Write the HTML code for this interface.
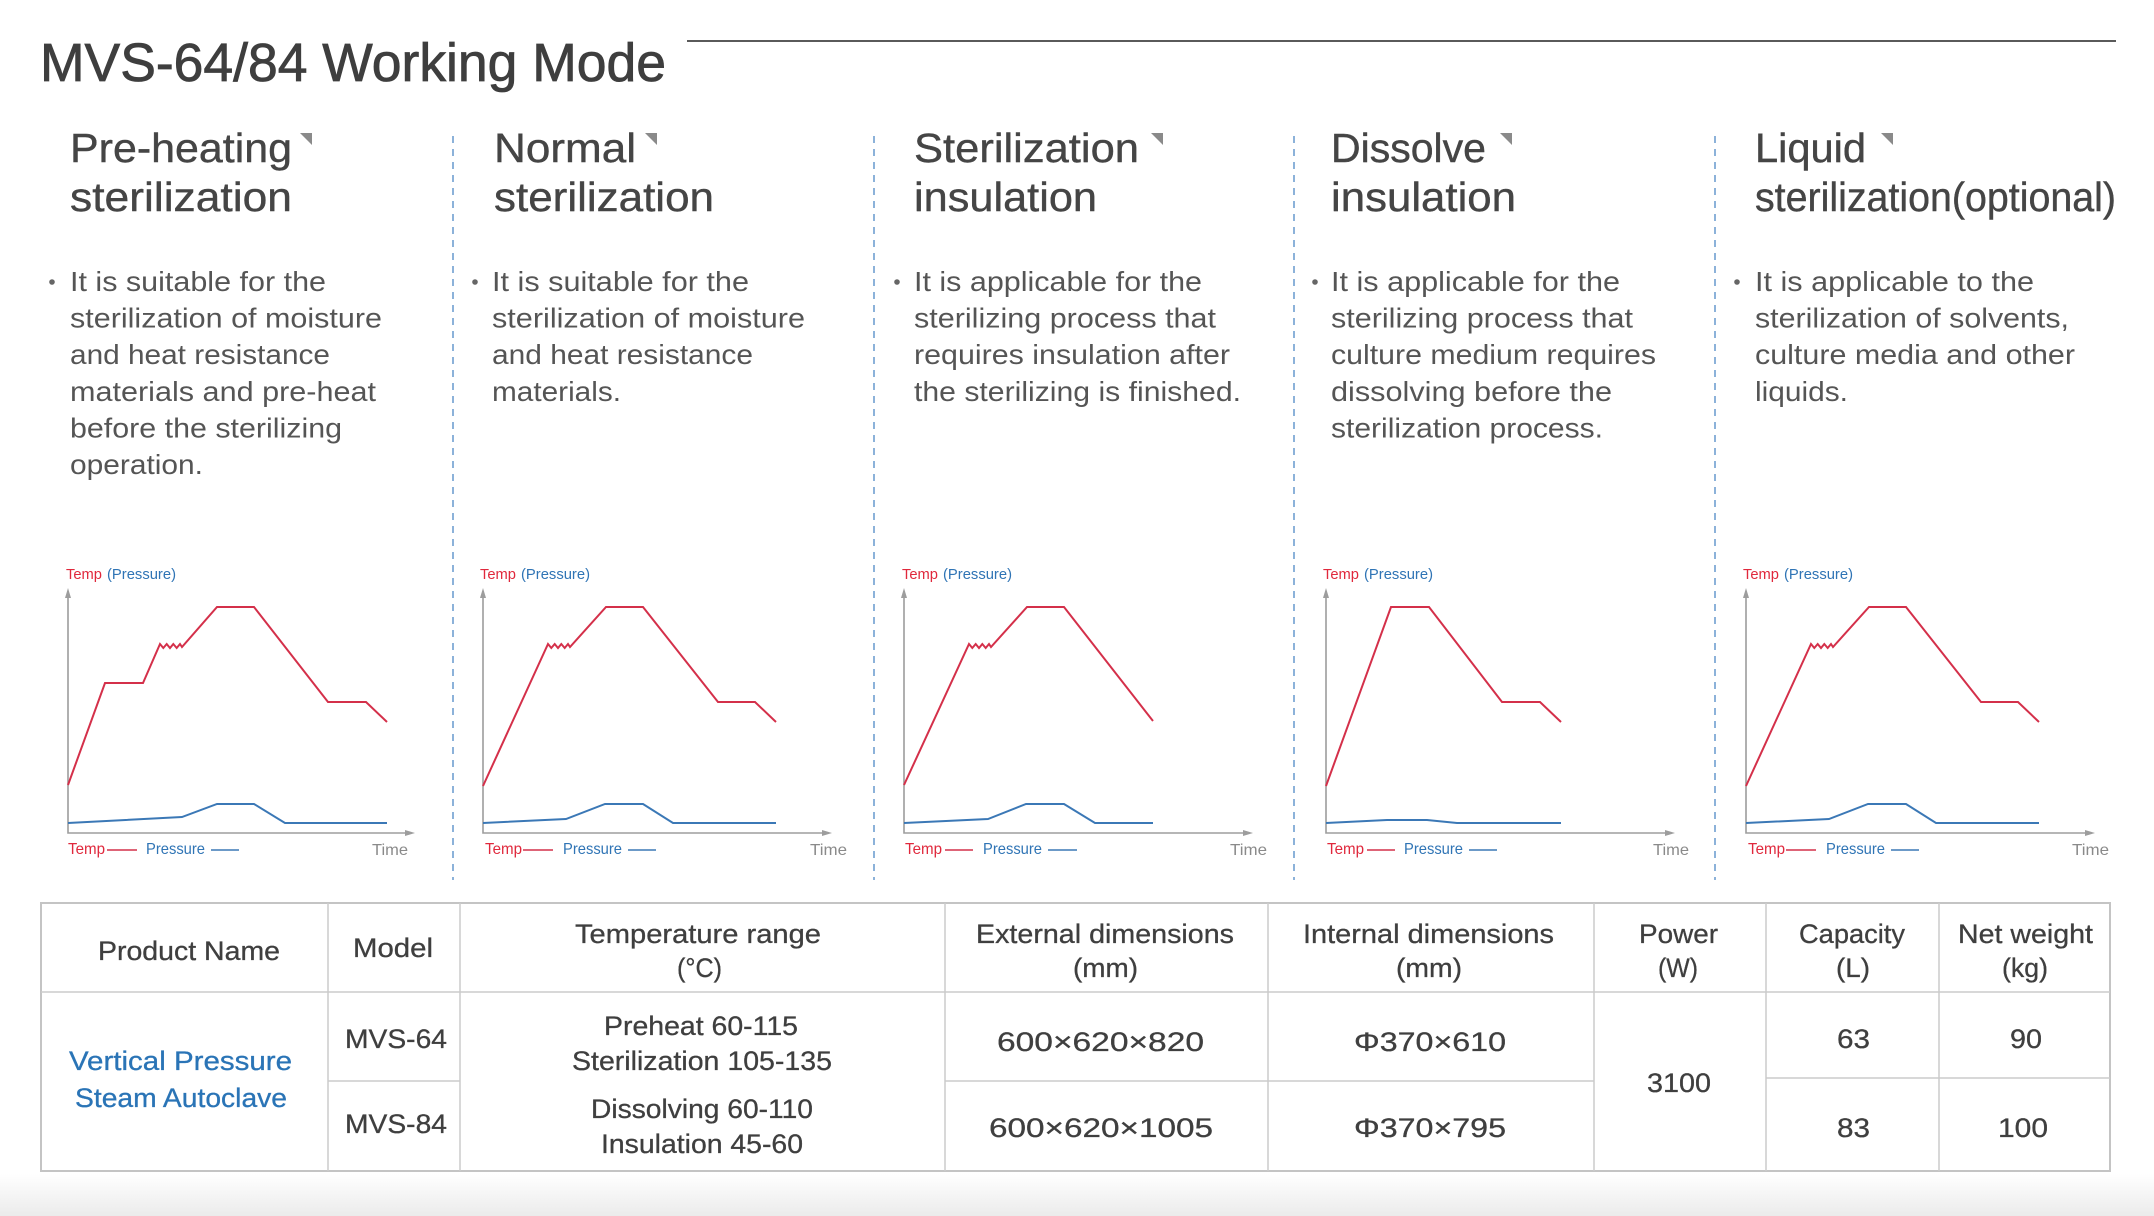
<!DOCTYPE html>
<html>
<head>
<meta charset="utf-8">
<style>
html,body{margin:0;padding:0;background:#fff;}
svg{display:block;}
text{font-family:"Liberation Sans","DejaVu Sans",sans-serif;}
</style>
</head>
<body>
<svg width="2154" height="1216" viewBox="0 0 2154 1216" xmlns="http://www.w3.org/2000/svg">
<defs>
<linearGradient id="bg" x1="0" y1="0" x2="0" y2="1">
<stop offset="0" stop-color="#ffffff"/>
<stop offset="1" stop-color="#ebebeb"/>
</linearGradient>
</defs>
<rect x="0" y="0" width="2154" height="1216" fill="#fff"/>
<rect x="0" y="1174" width="2154" height="42" fill="url(#bg)"/>

<!-- Title -->
<text x="40" y="81" font-size="54" fill="#3e3e3e" stroke="#3e3e3e" stroke-width="0.8" textLength="626" lengthAdjust="spacingAndGlyphs">MVS-64/84 Working Mode</text>
<line x1="687" y1="41" x2="2116" y2="41" stroke="#5a5a5a" stroke-width="2"/>

<!-- Separators -->
<g stroke="#6f9fd0" stroke-width="1.6" stroke-dasharray="7 6">
<line x1="453" y1="136" x2="453" y2="880"/>
<line x1="874" y1="136" x2="874" y2="880"/>
<line x1="1294" y1="136" x2="1294" y2="880"/>
<line x1="1715" y1="136" x2="1715" y2="880"/>
</g>

<!-- Headings -->
<g font-size="41" fill="#454545" stroke="#454545" stroke-width="0.4">
<text x="70" y="162" textLength="222" lengthAdjust="spacingAndGlyphs">Pre-heating</text>
<text x="70" y="211" textLength="222" lengthAdjust="spacingAndGlyphs">sterilization</text>
<text x="494" y="162" textLength="142" lengthAdjust="spacingAndGlyphs">Normal</text>
<text x="494" y="211" textLength="220" lengthAdjust="spacingAndGlyphs">sterilization</text>
<text x="914" y="162" textLength="225" lengthAdjust="spacingAndGlyphs">Sterilization</text>
<text x="914" y="211" textLength="183" lengthAdjust="spacingAndGlyphs">insulation</text>
<text x="1331" y="162" textLength="155" lengthAdjust="spacingAndGlyphs">Dissolve</text>
<text x="1331" y="211" textLength="185" lengthAdjust="spacingAndGlyphs">insulation</text>
<text x="1755" y="162" textLength="111" lengthAdjust="spacingAndGlyphs">Liquid</text>
<text x="1755" y="211" textLength="361" lengthAdjust="spacingAndGlyphs">sterilization(optional)</text>
</g>
<g fill="#8a8a8a">
<polygon points="300,133 312,133 312,145"/>
<polygon points="645,133 657,133 657,145"/>
<polygon points="1151,133 1163,133 1163,145"/>
<polygon points="1500,133 1512,133 1512,145"/>
<polygon points="1881,133 1893,133 1893,145"/>
</g>

<!-- Body text -->
<g fill="#666">
<circle cx="52" cy="282" r="2.8"/>
<circle cx="475" cy="282" r="2.8"/>
<circle cx="897" cy="282" r="2.8"/>
<circle cx="1315" cy="282" r="2.8"/>
<circle cx="1737" cy="282" r="2.8"/>
</g>
<g font-size="28" fill="#555">
<text x="70" y="291" textLength="256" lengthAdjust="spacingAndGlyphs">It is suitable for the</text>
<text x="70" y="327.6" textLength="312" lengthAdjust="spacingAndGlyphs">sterilization of moisture</text>
<text x="70" y="364.2" textLength="260" lengthAdjust="spacingAndGlyphs">and heat resistance</text>
<text x="70" y="400.8" textLength="306" lengthAdjust="spacingAndGlyphs">materials and pre-heat</text>
<text x="70" y="437.4" textLength="272" lengthAdjust="spacingAndGlyphs">before the sterilizing</text>
<text x="70" y="474" textLength="133" lengthAdjust="spacingAndGlyphs">operation.</text>

<text x="492" y="291" textLength="257" lengthAdjust="spacingAndGlyphs">It is suitable for the</text>
<text x="492" y="327.6" textLength="313" lengthAdjust="spacingAndGlyphs">sterilization of moisture</text>
<text x="492" y="364.2" textLength="261" lengthAdjust="spacingAndGlyphs">and heat resistance</text>
<text x="492" y="400.8" textLength="129" lengthAdjust="spacingAndGlyphs">materials.</text>

<text x="914" y="291" textLength="288" lengthAdjust="spacingAndGlyphs">It is applicable for the</text>
<text x="914" y="327.6" textLength="302" lengthAdjust="spacingAndGlyphs">sterilizing process that</text>
<text x="914" y="364.2" textLength="316" lengthAdjust="spacingAndGlyphs">requires insulation after</text>
<text x="914" y="400.8" textLength="327" lengthAdjust="spacingAndGlyphs">the sterilizing is finished.</text>

<text x="1331" y="291" textLength="289" lengthAdjust="spacingAndGlyphs">It is applicable for the</text>
<text x="1331" y="327.6" textLength="302" lengthAdjust="spacingAndGlyphs">sterilizing process that</text>
<text x="1331" y="364.2" textLength="325" lengthAdjust="spacingAndGlyphs">culture medium requires</text>
<text x="1331" y="400.8" textLength="281" lengthAdjust="spacingAndGlyphs">dissolving before the</text>
<text x="1331" y="437.4" textLength="272" lengthAdjust="spacingAndGlyphs">sterilization process.</text>

<text x="1755" y="291" textLength="279" lengthAdjust="spacingAndGlyphs">It is applicable to the</text>
<text x="1755" y="327.6" textLength="314" lengthAdjust="spacingAndGlyphs">sterilization of solvents,</text>
<text x="1755" y="364.2" textLength="320" lengthAdjust="spacingAndGlyphs">culture media and other</text>
<text x="1755" y="400.8" textLength="93" lengthAdjust="spacingAndGlyphs">liquids.</text>
</g>

<!-- Charts: common axes -->
<g stroke="#9d9d9d" stroke-width="1.6" fill="none">
<path d="M68 594 V833 H410"/>
<path d="M483 594 V833 H827"/>
<path d="M904 594 V833 H1248"/>
<path d="M1326 594 V833 H1670"/>
<path d="M1746 594 V833 H2090"/>
</g>
<g fill="#9d9d9d">
<polygon points="68,588 65,598 71,598"/>
<polygon points="415,833 405,830 405,836"/>
<polygon points="483,588 480,598 486,598"/>
<polygon points="832,833 822,830 822,836"/>
<polygon points="904,588 901,598 907,598"/>
<polygon points="1253,833 1243,830 1243,836"/>
<polygon points="1326,588 1323,598 1329,598"/>
<polygon points="1675,833 1665,830 1665,836"/>
<polygon points="1746,588 1743,598 1749,598"/>
<polygon points="2095,833 2085,830 2085,836"/>
</g>

<!-- Red temp lines -->
<g stroke="#d4304a" stroke-width="2" fill="none" stroke-linejoin="miter">
<polyline points="68,785 105,683 143,683 160,644 163.3,648 166.7,644 170,648 173.3,644 176.7,648 180,644 182,647 217,607 254,607 328,702 366,702 387,722"/>
<polyline points="483,786 548,644 551.3,648 554.7,644 558,648 561.3,644 564.7,648 568,644 570,647 606,607 643,607 718,702 755,702 776,722"/>
<polyline points="904,785 969,644 972.3,648 975.7,644 979,648 982.3,644 985.7,648 989,644 991,647 1027,607 1064,607 1153,721"/>
<polyline points="1326,786 1391,607 1429,607 1502,702 1540,702 1561,722"/>
<polyline points="1746,786 1811,644 1814.3,648 1817.7,644 1821,648 1824.3,644 1827.7,648 1831,644 1833,647 1869,607 1906,607 1981,702 2018,702 2039,722"/>
</g>

<!-- Blue pressure lines -->
<g stroke="#3b78b6" stroke-width="2" fill="none">
<polyline points="68,823 182,817 217,804 254,804 285,823 387,823"/>
<polyline points="483,823 566,819 605,804 643,804 673,823 776,823"/>
<polyline points="904,823 988,819 1026,804 1064,804 1095,823 1153,823"/>
<polyline points="1326,823 1387,820 1427,820 1457,823 1561,823"/>
<polyline points="1746,823 1829,819 1868,804 1906,804 1936,823 2039,823"/>
</g>

<!-- Chart top labels -->
<g font-size="15">
<text x="66" y="579" fill="#e0283c" textLength="36" lengthAdjust="spacingAndGlyphs">Temp</text>
<text x="107" y="579" fill="#2f74b5" textLength="69" lengthAdjust="spacingAndGlyphs">(Pressure)</text>
<text x="480" y="579" fill="#e0283c" textLength="36" lengthAdjust="spacingAndGlyphs">Temp</text>
<text x="521" y="579" fill="#2f74b5" textLength="69" lengthAdjust="spacingAndGlyphs">(Pressure)</text>
<text x="902" y="579" fill="#e0283c" textLength="36" lengthAdjust="spacingAndGlyphs">Temp</text>
<text x="943" y="579" fill="#2f74b5" textLength="69" lengthAdjust="spacingAndGlyphs">(Pressure)</text>
<text x="1323" y="579" fill="#e0283c" textLength="36" lengthAdjust="spacingAndGlyphs">Temp</text>
<text x="1364" y="579" fill="#2f74b5" textLength="69" lengthAdjust="spacingAndGlyphs">(Pressure)</text>
<text x="1743" y="579" fill="#e0283c" textLength="36" lengthAdjust="spacingAndGlyphs">Temp</text>
<text x="1784" y="579" fill="#2f74b5" textLength="69" lengthAdjust="spacingAndGlyphs">(Pressure)</text>
</g>

<!-- Chart legends -->
<g font-size="16">
<text x="68" y="854" fill="#e0283c" textLength="37" lengthAdjust="spacingAndGlyphs">Temp</text>
<text x="146" y="854" fill="#2f74b5" textLength="59" lengthAdjust="spacingAndGlyphs">Pressure</text>
<text x="372" y="855" fill="#8a8a8a" textLength="36" lengthAdjust="spacingAndGlyphs">Time</text>

<text x="485" y="854" fill="#e0283c" textLength="37" lengthAdjust="spacingAndGlyphs">Temp</text>
<text x="563" y="854" fill="#2f74b5" textLength="59" lengthAdjust="spacingAndGlyphs">Pressure</text>
<text x="810" y="855" fill="#8a8a8a" textLength="37" lengthAdjust="spacingAndGlyphs">Time</text>

<text x="905" y="854" fill="#e0283c" textLength="37" lengthAdjust="spacingAndGlyphs">Temp</text>
<text x="983" y="854" fill="#2f74b5" textLength="59" lengthAdjust="spacingAndGlyphs">Pressure</text>
<text x="1230" y="855" fill="#8a8a8a" textLength="37" lengthAdjust="spacingAndGlyphs">Time</text>

<text x="1327" y="854" fill="#e0283c" textLength="37" lengthAdjust="spacingAndGlyphs">Temp</text>
<text x="1404" y="854" fill="#2f74b5" textLength="59" lengthAdjust="spacingAndGlyphs">Pressure</text>
<text x="1653" y="855" fill="#8a8a8a" textLength="36" lengthAdjust="spacingAndGlyphs">Time</text>

<text x="1748" y="854" fill="#e0283c" textLength="37" lengthAdjust="spacingAndGlyphs">Temp</text>
<text x="1826" y="854" fill="#2f74b5" textLength="59" lengthAdjust="spacingAndGlyphs">Pressure</text>
<text x="2072" y="855" fill="#8a8a8a" textLength="37" lengthAdjust="spacingAndGlyphs">Time</text>
</g>
<g stroke-width="1.6">
<line x1="107" y1="850" x2="137" y2="850" stroke="#d4304a"/>
<line x1="211" y1="850" x2="239" y2="850" stroke="#3b78b6"/>
<line x1="523" y1="850" x2="553" y2="850" stroke="#d4304a"/>
<line x1="628" y1="850" x2="656" y2="850" stroke="#3b78b6"/>
<line x1="945" y1="850" x2="973" y2="850" stroke="#d4304a"/>
<line x1="1048" y1="850" x2="1077" y2="850" stroke="#3b78b6"/>
<line x1="1367" y1="850" x2="1395" y2="850" stroke="#d4304a"/>
<line x1="1469" y1="850" x2="1497" y2="850" stroke="#3b78b6"/>
<line x1="1786" y1="850" x2="1816" y2="850" stroke="#d4304a"/>
<line x1="1891" y1="850" x2="1919" y2="850" stroke="#3b78b6"/>
</g>

<!-- Table -->
<rect x="41" y="903" width="2069" height="268" fill="#fff" stroke="#c4c4c4" stroke-width="2"/>
<g stroke="#cbcbcb" stroke-width="1.5">
<line x1="41" y1="992" x2="2110" y2="992"/>
<line x1="328" y1="903" x2="328" y2="1171"/>
<line x1="460" y1="903" x2="460" y2="1171"/>
<line x1="945" y1="903" x2="945" y2="1171"/>
<line x1="1268" y1="903" x2="1268" y2="1171"/>
<line x1="1594" y1="903" x2="1594" y2="1171"/>
<line x1="1766" y1="903" x2="1766" y2="1171"/>
<line x1="1939" y1="903" x2="1939" y2="1171"/>
<line x1="328" y1="1081" x2="460" y2="1081"/>
<line x1="945" y1="1081" x2="1594" y2="1081"/>
<line x1="1766" y1="1078" x2="2110" y2="1078"/>
</g>
<g font-size="27" fill="#3f3f3f" stroke="#3f3f3f" stroke-width="0.3">
<text x="98" y="960" textLength="182" lengthAdjust="spacingAndGlyphs">Product Name</text>
<text x="353" y="957" textLength="80" lengthAdjust="spacingAndGlyphs">Model</text>
<text x="575" y="943" textLength="246" lengthAdjust="spacingAndGlyphs">Temperature range</text>
<text x="677" y="977" textLength="45" lengthAdjust="spacingAndGlyphs">(°C)</text>
<text x="976" y="943" textLength="258" lengthAdjust="spacingAndGlyphs">External dimensions</text>
<text x="1073" y="977" textLength="65" lengthAdjust="spacingAndGlyphs">(mm)</text>
<text x="1303" y="943" textLength="251" lengthAdjust="spacingAndGlyphs">Internal dimensions</text>
<text x="1396" y="977" textLength="66" lengthAdjust="spacingAndGlyphs">(mm)</text>
<text x="1639" y="943" textLength="79" lengthAdjust="spacingAndGlyphs">Power</text>
<text x="1658" y="977" textLength="40" lengthAdjust="spacingAndGlyphs">(W)</text>
<text x="1799" y="943" textLength="106" lengthAdjust="spacingAndGlyphs">Capacity</text>
<text x="1836" y="977" textLength="34" lengthAdjust="spacingAndGlyphs">(L)</text>
<text x="1958" y="943" textLength="135" lengthAdjust="spacingAndGlyphs">Net weight</text>
<text x="2002" y="977" textLength="46" lengthAdjust="spacingAndGlyphs">(kg)</text>

<text x="345" y="1048" textLength="102" lengthAdjust="spacingAndGlyphs">MVS-64</text>
<text x="345" y="1133" textLength="102" lengthAdjust="spacingAndGlyphs">MVS-84</text>

<text x="604" y="1035" textLength="194" lengthAdjust="spacingAndGlyphs">Preheat 60-115</text>
<text x="572" y="1070" textLength="260" lengthAdjust="spacingAndGlyphs">Sterilization 105-135</text>
<text x="591" y="1118" textLength="222" lengthAdjust="spacingAndGlyphs">Dissolving 60-110</text>
<text x="601" y="1153" textLength="202" lengthAdjust="spacingAndGlyphs">Insulation 45-60</text>

<text x="997" y="1051" textLength="207" lengthAdjust="spacingAndGlyphs">600×620×820</text>
<text x="989" y="1137" textLength="224" lengthAdjust="spacingAndGlyphs">600×620×1005</text>
<text x="1354" y="1051" textLength="152" lengthAdjust="spacingAndGlyphs">Φ370×610</text>
<text x="1354" y="1137" textLength="152" lengthAdjust="spacingAndGlyphs">Φ370×795</text>
<text x="1647" y="1092" textLength="64" lengthAdjust="spacingAndGlyphs">3100</text>
<text x="1837" y="1048" textLength="33" lengthAdjust="spacingAndGlyphs">63</text>
<text x="2010" y="1048" textLength="32" lengthAdjust="spacingAndGlyphs">90</text>
<text x="1837" y="1137" textLength="33" lengthAdjust="spacingAndGlyphs">83</text>
<text x="1998" y="1137" textLength="50" lengthAdjust="spacingAndGlyphs">100</text>
</g>
<g font-size="27" fill="#2a74b6" stroke="#2a74b6" stroke-width="0.3">
<text x="69" y="1070" textLength="223" lengthAdjust="spacingAndGlyphs">Vertical Pressure</text>
<text x="75" y="1107" textLength="212" lengthAdjust="spacingAndGlyphs">Steam Autoclave</text>
</g>
</svg>
</body>
</html>
